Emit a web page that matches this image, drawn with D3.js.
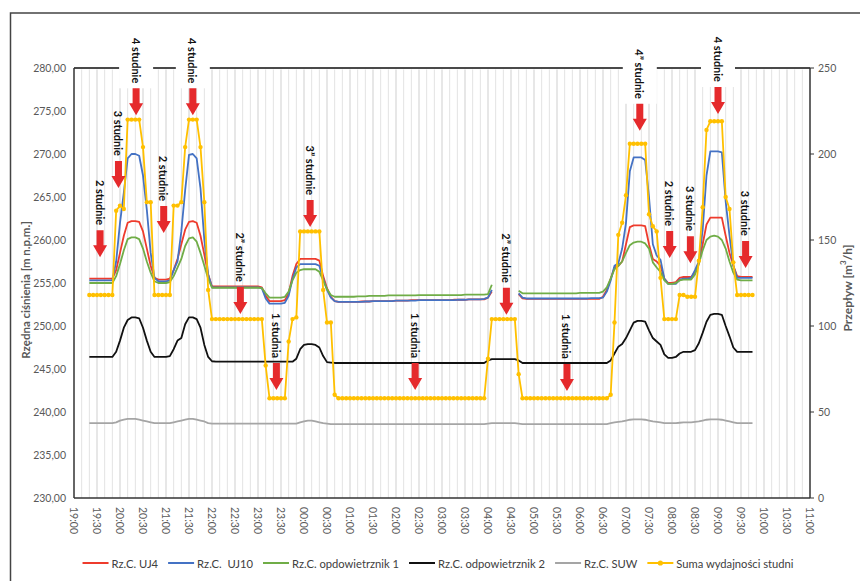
<!DOCTYPE html>
<html><head><meta charset="utf-8">
<script src="https://cdn.jsdelivr.net/npm/d3@7"></script>
<style>body{margin:0;background:#fff}svg{display:block}text{font-family:Lato,"Open Sans",sans-serif}</style>
</head><body><svg id="c" width="860" height="581"></svg>
<script>
// ---------- DATA ----------
const times = [
"19:20","19:25","19:30","19:35","19:40","19:45","19:50","19:55",
"20:00","20:05","20:10","20:15","20:20","20:25","20:30","20:35","20:40","20:45","20:50","20:55",
"21:00","21:05","21:10","21:15","21:20","21:25","21:30","21:35","21:40","21:45","21:50","21:55",
"22:00","22:05","22:10","22:15","22:20","22:25","22:30","22:35","22:40","22:45","22:50","22:55",
"23:00","23:05","23:10","23:15","23:20","23:25","23:30","23:35","23:40","23:45","23:50","23:55",
"00:00","00:05","00:10","00:15","00:20","00:25","00:30","00:35","00:40","00:45","00:50","00:55",
"01:00","01:05","01:10","01:15","01:20","01:25","01:30","01:35","01:40","01:45","01:50","01:55",
"02:00","02:05","02:10","02:15","02:20","02:25","02:30","02:35","02:40","02:45","02:50","02:55",
"03:00","03:05","03:10","03:15","03:20","03:25","03:30","03:35","03:40","03:45","03:50","03:55",
"04:00","04:05","04:10","04:15","04:20","04:25","04:30","04:35","04:40","04:45","04:50","04:55",
"05:00","05:05","05:10","05:15","05:20","05:25","05:30","05:35","05:40","05:45","05:50","05:55",
"06:00","06:05","06:10","06:15","06:20","06:25","06:30","06:35","06:40","06:45","06:50","06:55",
"07:00","07:05","07:10","07:15","07:20","07:25","07:30","07:35","07:40","07:45","07:50","07:55",
"08:00","08:05","08:10","08:15","08:20","08:25","08:30","08:35","08:40","08:45","08:50","08:55",
"09:00","09:05","09:10","09:15","09:20","09:25","09:30","09:35","09:40","09:45"];

const rzcUJ4 = [
255.5,255.5,255.5,255.5,255.5,255.5,255.5,256.5,
258.5,260.5,262,262.2,262.2,262.1,261,259,257,255.6,255.4,255.4,
255.4,255.5,256.5,257.8,259.5,261.2,262.1,262.2,262,260.5,258.3,256,
254.6,254.6,254.6,254.6,254.6,254.6,254.6,254.6,254.6,254.6,254.6,254.6,
254.6,254.5,253.5,252.9,252.9,252.9,252.9,253.0,253.8,255.8,257.2,257.8,
257.8,257.8,257.8,257.8,257.6,255.8,254.4,253.4,252.9,252.8,252.8,252.8,
252.8,252.8,252.8,252.85,252.85,252.85,252.9,252.9,252.9,252.9,252.9,252.9,
252.95,252.95,252.95,252.95,253.0,253.0,253.0,253.0,253.0,253.0,253.0,253.0,
253.0,253.0,253.0,253.05,253.05,253.05,253.05,253.1,253.1,253.1,253.1,253.1,
253.3,254.0,null,null,null,null,null,null,253.7,253.2,253.15,253.15,
253.15,253.15,253.15,253.15,253.15,253.15,253.15,253.15,253.15,253.15,253.15,253.15,
253.15,253.15,253.15,253.15,253.15,253.15,253.4,254.2,255.5,256.8,257.0,257.5,
259.5,261.5,261.7,261.7,261.7,261.6,259.5,257.8,257.5,257.0,255.5,255.0,
255.0,255.1,255.6,255.7,255.7,255.7,256.3,257.3,259.5,261.8,262.6,262.6,
262.6,262.6,260.5,258.5,257.0,255.8,255.7,255.7,255.7,255.7];

const rzcUJ10 = [
255.3,255.3,255.3,255.3,255.3,255.3,255.3,257.5,
262,265.5,269.5,270,270,269.8,267.5,263.5,258.5,255.6,255.2,255.2,
255.2,255.3,256.5,257.5,261,265.8,269.9,270,269.5,266,260,256,
254.5,254.5,254.5,254.5,254.5,254.5,254.5,254.5,254.5,254.5,254.5,254.5,
254.5,254.4,253.2,252.6,252.6,252.6,252.6,252.7,253.5,255.5,256.8,257.2,
257.2,257.2,257.2,257.2,257.0,255.5,254.2,253.3,252.9,252.8,252.8,252.8,
252.8,252.8,252.8,252.8,252.85,252.85,252.9,252.9,252.9,252.9,252.9,252.9,
252.95,252.95,252.95,252.95,252.95,252.95,253.0,253.0,253.0,253.0,253.0,253.0,
253.0,253.0,253.0,253.0,253.05,253.05,253.05,253.1,253.1,253.1,253.1,253.15,
253.3,254.2,null,null,null,null,null,null,253.8,253.3,253.2,253.2,
253.2,253.2,253.2,253.2,253.2,253.2,253.2,253.2,253.2,253.2,253.2,253.2,
253.2,253.2,253.2,253.25,253.25,253.25,253.3,254.0,255.3,257.0,257.3,259.0,
262,268,269.6,269.6,269.6,269.3,265,259.5,258.2,257.7,255.5,254.9,
254.9,254.9,255.4,255.5,255.5,255.6,256.5,257.5,261.2,267.5,270.3,270.3,
270.3,270.2,264.5,260.5,257,255.6,255.6,255.6,255.6,255.6];

const rzcOdpowietrznik1 = [
255.0,255.0,255.0,255.0,255.0,255.0,255.0,255.8,
257.2,258.8,260.1,260.3,260.3,260.1,259.0,257.5,256.2,255.2,255.0,255.0,
255.0,255.1,255.8,256.8,257.8,259.3,260.2,260.3,259.8,258.5,257.0,255.5,
254.45,254.45,254.45,254.45,254.45,254.45,254.45,254.45,254.45,254.45,254.45,254.45,
254.45,254.4,253.8,253.3,253.3,253.3,253.3,253.4,254.0,255.3,256.2,256.5,
256.6,256.6,256.6,256.6,256.3,255.3,254.3,253.6,253.4,253.4,253.4,253.4,
253.4,253.4,253.45,253.45,253.45,253.5,253.5,253.5,253.5,253.5,253.55,253.55,
253.55,253.55,253.55,253.55,253.55,253.55,253.6,253.6,253.6,253.6,253.6,253.6,
253.6,253.6,253.6,253.6,253.6,253.6,253.65,253.65,253.65,253.65,253.65,253.65,
253.7,254.8,null,null,null,null,null,null,254.1,253.8,253.8,253.8,
253.8,253.8,253.8,253.8,253.8,253.8,253.8,253.8,253.8,253.8,253.8,253.8,
253.85,253.85,253.85,253.85,253.85,253.85,254.0,254.5,255.5,256.6,257.0,257.5,
258.5,259.4,259.7,259.8,259.8,259.6,259.0,257.4,256.8,256.3,255.3,254.9,
254.9,255.0,255.3,255.4,255.4,255.4,256.0,257.2,258.8,260.0,260.4,260.5,
260.4,260.0,259.0,257.5,256.2,255.4,255.3,255.3,255.3,255.3];

const rzcOdpowietrznik2 = [
246.4,246.4,246.4,246.4,246.4,246.4,246.4,247.0,
248.3,249.8,250.7,251.0,251.0,250.9,249.8,248.3,247.0,246.4,246.4,246.4,
246.4,246.5,247.3,248.3,248.6,250.2,251.0,251.0,250.8,249.8,247.8,246.4,
245.9,245.85,245.85,245.85,245.85,245.85,245.85,245.85,245.85,245.85,245.85,245.85,
245.85,245.85,245.85,245.85,245.85,245.85,245.85,245.85,245.85,245.85,246.2,247.3,
247.8,247.9,247.9,247.8,247.5,246.5,245.8,245.75,245.7,245.7,245.7,245.7,
245.7,245.7,245.7,245.7,245.7,245.7,245.7,245.7,245.7,245.7,245.7,245.7,
245.7,245.7,245.7,245.7,245.7,245.7,245.7,245.7,245.7,245.7,245.7,245.7,
245.7,245.7,245.7,245.7,245.7,245.7,245.7,245.7,245.7,245.7,245.7,245.7,
246.0,246.15,246.15,246.15,246.15,246.15,246.15,246.15,246.0,245.7,245.7,245.7,
245.7,245.7,245.7,245.7,245.7,245.7,245.7,245.7,245.7,245.7,245.7,245.7,
245.7,245.7,245.7,245.7,245.7,245.7,245.7,245.7,246.0,246.8,247.6,247.9,
248.6,249.5,250.4,250.6,250.6,250.5,249.5,248.6,248.2,247.8,246.7,246.3,
246.3,246.4,246.8,247.0,247.0,247.0,247.2,248.0,249.2,250.5,251.3,251.4,
251.4,251.3,250.0,248.8,247.5,247.0,247.0,247.0,247.0,247.0];

const rzcSUW = [
238.7,238.7,238.7,238.7,238.7,238.7,238.7,238.8,
239.0,239.1,239.2,239.2,239.2,239.1,239.0,238.9,238.8,238.7,238.7,238.7,
238.7,238.7,238.8,238.9,239.0,239.1,239.2,239.2,239.1,239.0,238.9,238.7,
238.65,238.65,238.65,238.65,238.65,238.65,238.65,238.65,238.65,238.65,238.65,238.65,
238.65,238.65,238.65,238.65,238.65,238.65,238.65,238.65,238.65,238.65,238.65,238.8,
238.9,239.0,239.0,238.9,238.8,238.7,238.65,238.6,238.6,238.6,238.6,238.6,
238.6,238.6,238.6,238.6,238.6,238.6,238.6,238.6,238.6,238.6,238.6,238.6,
238.6,238.6,238.6,238.6,238.6,238.6,238.6,238.6,238.6,238.6,238.6,238.6,
238.6,238.6,238.6,238.6,238.6,238.6,238.6,238.6,238.6,238.6,238.6,238.6,
238.65,238.7,238.7,238.7,238.7,238.7,238.7,238.7,238.65,238.6,238.6,238.6,
238.6,238.6,238.6,238.6,238.6,238.6,238.6,238.6,238.6,238.6,238.6,238.6,
238.6,238.6,238.6,238.6,238.6,238.6,238.6,238.6,238.7,238.8,238.85,238.9,
239.0,239.1,239.15,239.15,239.15,239.1,239.0,238.9,238.85,238.8,238.7,238.7,
238.7,238.7,238.75,238.8,238.8,238.8,238.85,238.9,239.0,239.1,239.15,239.15,
239.15,239.1,239.0,238.9,238.8,238.7,238.7,238.7,238.7,238.7];

const sumaWydajnosci = [
118,118,118,118,118,118,118,167,
170,168,220,220,220,220,204,172,172,118,118,118,
118,118,170,170,172,204,220,220,220,204,172,121,
104,104,104,104,104,104,104,104,104,104,104,104,
104,104,77,58,58,58,58,58,91,104,105,155,
155,155,155,155,155,121,102,102,60,58,58,58,
58,58,58,58,58,58,58,58,58,58,58,58,
58,58,58,58,58,58,58,58,58,58,58,58,
58,58,58,58,58,58,58,58,58,58,58,58,
81,104,104,104,104,104,104,104,72,58,58,58,
58,58,58,58,58,58,58,58,58,58,58,58,
58,58,58,58,58,58,58,58,60,102,153,160,
176,206,206,206,206,206,165,158,155,128,104,104,
104,104,118,118,117,117,117,138,169,214,219,219,
219,219,175,168,137,118,118,118,118,118];

const xTickLabels = ["19:00","19:30","20:00","20:30","21:00","21:30","22:00","22:30","23:00","23:30",
"00:00","00:30","01:00","01:30","02:00","02:30","03:00","03:30","04:00","04:30","05:00","05:30",
"06:00","06:30","07:00","07:30","08:00","08:30","09:00","09:30","10:00","10:30","11:00"];
const leftTicks = [230,235,240,245,250,255,260,265,270,275,280];
const rightTicks = [0,50,100,150,200,250];

// annotation labels: text, time of arrow, arrow-tip level (left axis)
const annLabels = ["2 studnie","3 studnie","4 studnie","2 studnie","4 studnie","2\u201D studnie","1 studnia","3\u201D studnie",
"1 studnia","2\u201D studnie","1 studnia","4\u201D studnie","2 studnie","3 studnie","4 studnie","3 studnie"];
const annTimes = ["19:34","19:58","20:21","20:57","21:35","22:37","23:24","00:08","02:25","04:24","05:43","07:18","07:57","08:24","09:00","09:36"];
const annLevels = [258.0,266.05,274.5,260.8,274.5,251.4,242.55,261.5,242.55,251.3,242.45,272.7,257.9,257.3,274.65,256.75];
const annTop = [false,false,true,false,true,false,false,false,false,false,false,true,false,false,true,false];

const seriesNames = ["Rz.C. UJ4","Rz.C.  UJ10","Rz.C. opdowietrznik 1","Rz.C. odpowietrznik 2","Rz.C. SUW","Suma wydajności studni"];
const seriesColors = ["#ee3b2c","#4472c4","#70ad47","#111111","#a5a5a5","#ffc000"];

// ---------- CHART ----------
const svg = d3.select("#c");
const L=74,R=810,T=68,B=498;
const toMin = s => { const [h,m]=s.split(":").map(Number); let v=h*60+m; if(h<19) v+=1440; return v-1140; };
const x = d3.scaleLinear().domain([0,960]).range([L,R]);
const yL = d3.scaleLinear().domain([230,280]).range([B,T]);
const yR = d3.scaleLinear().domain([0,250]).range([B,T]);
const tm = times.map(toMin);

const gridG = svg.append("g");
const dataG = svg.append("g");
const topG = svg.append("g");
const annG = svg.append("g");
const axG = svg.append("g");

// vertical gridlines every 10 min
d3.range(10,960,10).forEach(m=>{
  gridG.append("line").attr("x1",x(m)).attr("x2",x(m)).attr("y1",T+1.5).attr("y2",B)
   .attr("stroke", m%30===0 ? "#cfcfcf" : "#e3e3e3").attr("stroke-width",1);
});

const leftSeries=[rzcUJ4,rzcUJ10,rzcOdpowietrznik1,rzcOdpowietrznik2,rzcSUW];
leftSeries.forEach((s,i)=>{
  const line=d3.line().defined(d=>d!=null).x((d,j)=>x(tm[j])).y(d=>yL(d));
  dataG.append("path").datum(s).attr("d",line).attr("fill","none")
    .attr("stroke",seriesColors[i]).attr("stroke-width",1.8).attr("stroke-linejoin","round");
});
const lineR=d3.line().x((d,j)=>x(tm[j])).y(d=>yR(d));
dataG.append("path").datum(sumaWydajnosci).attr("d",lineR).attr("fill","none")
  .attr("stroke",seriesColors[5]).attr("stroke-width",1.8).attr("stroke-linejoin","round");
dataG.append("g").selectAll("circle").data(sumaWydajnosci).join("circle")
  .attr("cx",(d,j)=>x(tm[j])).attr("cy",d=>yR(d)).attr("r",2.2).attr("fill",seriesColors[5]);

// top border of plot area
topG.append("rect").attr("x",L).attr("y",T-1).attr("width",R-L).attr("height",2).attr("fill","#4a4a4a");

// annotations
annLabels.forEach((lab,i)=>{
  const cx = x(toMin(annTimes[i]));
  const tip = yL(annLevels[i]);
  const top = tip-27;
  const tEnd = top-5;
  const grp = annG.append("g");
  const t = grp.append("text").attr("transform",`translate(${cx},${tEnd}) rotate(90)`)
    .attr("text-anchor","end").attr("dominant-baseline","central")
    .attr("font-size",11).attr("font-weight","bold").attr("fill","#111").text(lab);
  const len = t.node().getComputedTextLength();
  if (annTop[i]) grp.insert("rect","text").attr("x",cx-17).attr("y",tEnd-len-4).attr("width",34).attr("height",len+9).attr("fill","#fff");
  grp.append("path").attr("d",`M${cx-3.5},${top} H${cx+3.5} V${tip-12} H${cx+7} L${cx},${tip} L${cx-7},${tip-12} H${cx-3.5} Z`)
    .attr("fill","#e52a2c");
});

// axis lines
axG.append("line").attr("x1",L).attr("x2",L).attr("y1",T).attr("y2",B).attr("stroke","#333").attr("stroke-width",1.5);
axG.append("line").attr("x1",R).attr("x2",R).attr("y1",T).attr("y2",B).attr("stroke","#333").attr("stroke-width",1.5);
axG.append("line").attr("x1",L).attr("x2",R).attr("y1",B).attr("y2",B).attr("stroke","#333").attr("stroke-width",1.5);

// left axis labels
const fmt = v => d3.format(".2f")(v).replace(".",",");
leftTicks.forEach(v=>{
  axG.append("text").attr("x",66).attr("y",yL(v)).attr("text-anchor","end").attr("dominant-baseline","central")
    .attr("font-size",10.5).attr("fill","#595959").text(fmt(v));
});
// right axis
rightTicks.forEach(v=>{
  axG.append("line").attr("x1",R).attr("x2",R+4).attr("y1",yR(v)).attr("y2",yR(v)).attr("stroke","#333");
  axG.append("text").attr("x",R+8).attr("y",yR(v)).attr("dominant-baseline","central")
    .attr("font-size",10.5).attr("fill","#595959").text(v);
});
// x labels
xTickLabels.forEach((s,i)=>{
  const m = i===xTickLabels.length-1 ? 960 : toMin(s);
  axG.append("text").attr("transform",`translate(${x(m)},507) rotate(90)`)
    .attr("dominant-baseline","central").attr("font-size",10.5).attr("fill","#595959").text(s);
});
// axis titles
axG.append("text").attr("transform","translate(25,290) rotate(-90)").attr("text-anchor","middle")
  .attr("dominant-baseline","central").attr("font-size",11.5).attr("font-weight","bold").attr("fill","#595959")
  .text("Rzędna ciśnienia [m n.p.m.]");
axG.append("text").attr("transform","translate(847,288) rotate(-90)").attr("text-anchor","middle")
  .attr("dominant-baseline","central").attr("font-size",12).attr("font-weight","bold").attr("fill","#595959")
  .html("Przepływ [m<tspan dy='-4' font-size='8'>3</tspan><tspan dy='4'>/h]</tspan>");

// legend
const lg = svg.append("g");
const items=[];
seriesNames.forEach((n,i)=>{
  const it = lg.append("g");
  it.append("line").attr("x1",0).attr("x2",26).attr("y1",0).attr("y2",0).attr("stroke",seriesColors[i]).attr("stroke-width",2);
  if(i===5) it.append("circle").attr("cx",13).attr("cy",0).attr("r",2.6).attr("fill",seriesColors[i]);
  const t = it.append("text").attr("x",29).attr("y",0).attr("dominant-baseline","central")
    .attr("font-size",11.2).attr("fill","#404040").style("white-space","pre").text(n);
  const w = 29 + t.node().getComputedTextLength();
  items.push([it,w]);
});
const total = d3.sum(items,d=>d[1]) + 10*(items.length-1);
let pos = 438 - total/2;
items.forEach(([it,w])=>{ it.attr("transform",`translate(${pos},563)`); pos += w+10; });

// outer frame
svg.append("path").attr("d","M10.5,581 V13 H860").attr("fill","none").attr("stroke","#444").attr("stroke-width",1.5);
</script></body></html>
